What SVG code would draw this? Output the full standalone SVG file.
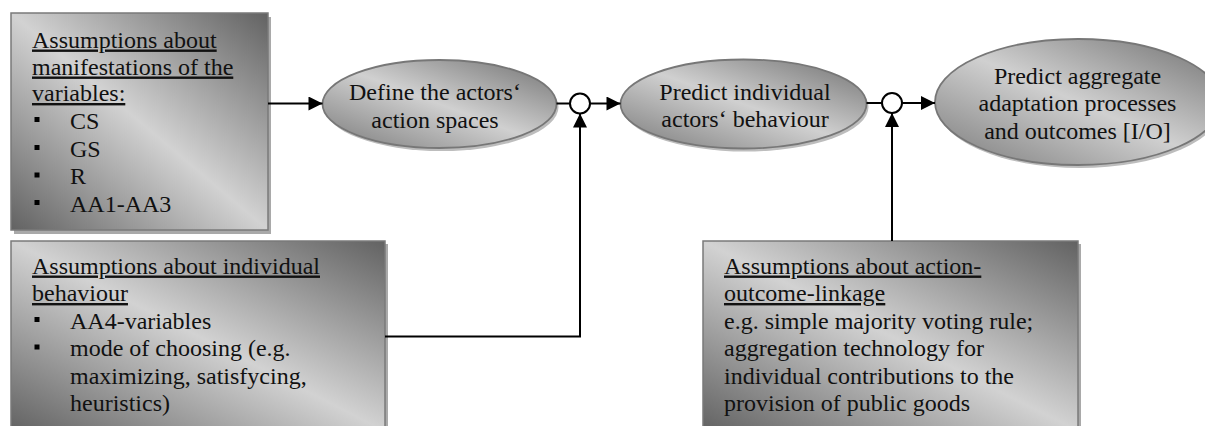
<svg xmlns="http://www.w3.org/2000/svg" width="1205" height="426" viewBox="0 0 1205 426">
<defs>
<linearGradient id="gBox" x1="1" y1="0" x2="0" y2="1">
<stop offset="0" stop-color="#626262"/>
<stop offset="0.5" stop-color="#d2d2d2"/>
<stop offset="1" stop-color="#626262"/>
</linearGradient>
<linearGradient id="gEll" x1="1" y1="0" x2="0" y2="1">
<stop offset="0" stop-color="#707070"/>
<stop offset="0.5" stop-color="#d0d0d0"/>
<stop offset="1" stop-color="#7a7a7a"/>
</linearGradient>
<marker id="arr" viewBox="0 0 10 10" refX="10" refY="5" markerUnits="userSpaceOnUse" markerWidth="15" markerHeight="14" orient="auto">
<path d="M0,0 L10,5 L0,10 z" fill="#000"/>
</marker>
</defs>
<style>
.box{fill:url(#gBox);stroke:#7a7a7a;stroke-width:1.5}
.bsh{fill:#a9a9a9}
.ell{fill:url(#gEll);stroke:#777;stroke-width:1.8}
.esh{fill:#bdbdbd}
.t{font-family:"Liberation Serif","Times New Roman",serif;font-size:24px;fill:#111}
.u{text-decoration:underline}
.c{text-anchor:middle}
.bul{fill:#000}
.ln{fill:none;stroke:#000;stroke-width:2}
.jn{fill:#fff;stroke:#000;stroke-width:2}
</style>

<g id="box-manifestations">
<rect class="bsh" x="14" y="17" width="257" height="217"/>
<rect class="box" x="11" y="13" width="257" height="217"/>
<text class="t u" x="32" y="47.5">Assumptions about</text>
<text class="t u" x="32" y="74.5">manifestations of the</text>
<text class="t u" x="32" y="101">variables:</text>
<rect class="bul" x="34.5" y="117" width="5" height="5"/>
<text class="t" x="70" y="128.5">CS</text>
<rect class="bul" x="34.5" y="145" width="5" height="5"/>
<text class="t" x="70" y="156.5">GS</text>
<rect class="bul" x="34.5" y="172.5" width="5" height="5"/>
<text class="t" x="70" y="184">R</text>
<rect class="bul" x="34.5" y="200" width="5" height="5"/>
<text class="t" x="70" y="211.5">AA1-AA3</text>
</g>

<g id="box-individual">
<rect class="bsh" x="14" y="244" width="374" height="190"/>
<rect class="box" x="11" y="241" width="374" height="190"/>
<text class="t u" x="32" y="273.5">Assumptions about individual</text>
<text class="t u" x="32" y="301">behaviour</text>
<rect class="bul" x="34.5" y="317" width="5" height="5"/>
<text class="t" x="70" y="328.5">AA4-variables</text>
<rect class="bul" x="34.5" y="344.5" width="5" height="5"/>
<text class="t" x="70" y="356">mode of choosing (e.g.</text>
<text class="t" x="70" y="383.5">maximizing, satisfycing,</text>
<text class="t" x="70" y="411">heuristics)</text>
</g>

<g id="box-linkage">
<rect class="bsh" x="706" y="244" width="375" height="190"/>
<rect class="box" x="703" y="241" width="375" height="190"/>
<text class="t u" x="724" y="273.5">Assumptions about action-</text>
<text class="t u" x="724" y="301">outcome-linkage</text>
<text class="t" x="724" y="328.5">e.g. simple majority voting rule;</text>
<text class="t" x="724" y="356">aggregation technology for</text>
<text class="t" x="724" y="383.5">individual contributions to the</text>
<text class="t" x="724" y="411">provision of public goods</text>
</g>

<g id="ell-define">
<ellipse class="esh" cx="441.5" cy="107" rx="117" ry="44"/>
<ellipse class="ell" cx="439.5" cy="104" rx="117" ry="44"/>
<text class="t c" x="435" y="100">Define the actors‘</text>
<text class="t c" x="435" y="128">action spaces</text>
</g>

<g id="ell-predict-individual">
<ellipse class="esh" cx="745.5" cy="107" rx="123" ry="44.5"/>
<ellipse class="ell" cx="743.5" cy="104" rx="123" ry="44.5"/>
<text class="t c" x="745" y="100">Predict individual</text>
<text class="t c" x="745" y="127">actors‘ behaviour</text>
</g>

<g id="ell-predict-aggregate">
<ellipse class="esh" cx="1080" cy="105" rx="143" ry="63"/>
<ellipse class="ell" cx="1078" cy="102" rx="143" ry="63"/>
<text class="t c" x="1077.5" y="83.5">Predict aggregate</text>
<text class="t c" x="1077.5" y="111">adaptation processes</text>
<text class="t c" x="1077.5" y="138.5">and outcomes [I/O]</text>
</g>

<g id="connectors">
<line class="ln" x1="268" y1="103.5" x2="322.5" y2="103.5" marker-end="url(#arr)"/>
<line class="ln" x1="556.5" y1="103.5" x2="570" y2="103.5"/>
<line class="ln" x1="590" y1="103.5" x2="620.5" y2="103.5" marker-end="url(#arr)"/>
<polyline class="ln" points="385,336.5 580,336.5 580,113.5" marker-end="url(#arr)"/>
<circle class="jn" cx="580" cy="103.5" r="10"/>
<line class="ln" x1="866.5" y1="103" x2="882" y2="103"/>
<line class="ln" x1="902" y1="103" x2="935" y2="103" marker-end="url(#arr)"/>
<line class="ln" x1="892" y1="241" x2="892" y2="113" marker-end="url(#arr)"/>
<circle class="jn" cx="892" cy="103" r="10"/>
</g>
</svg>
